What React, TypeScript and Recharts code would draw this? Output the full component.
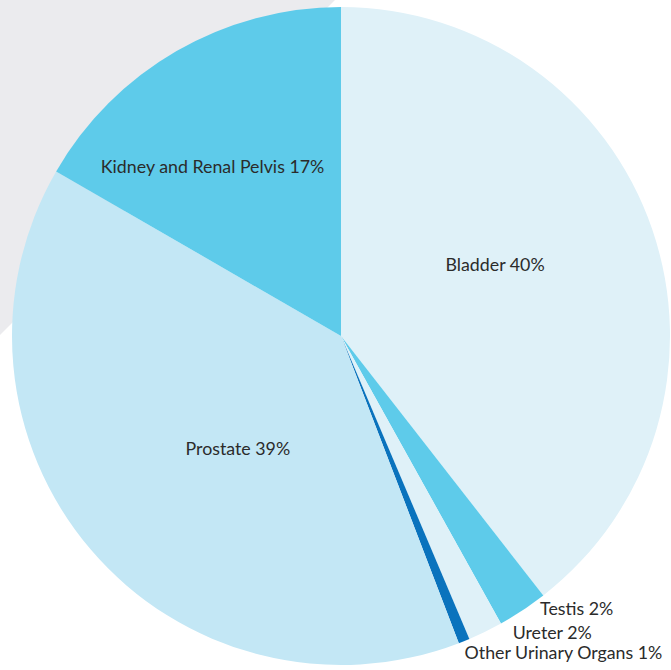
import { PieChart, Pie, Cell } from "recharts";

// slices, clockwise from 12 o'clock
const SITES = ["Bladder", "Testis", "Ureter", "Other Urinary Organs", "Prostate", "Kidney and Renal Pelvis"];
const SHARES = [39.46, 2.46, 1.7, 0.55, 39.17, 16.66];
const SHARE_LABELS = ["40%", "2%", "2%", "1%", "39%", "17%"];
const COLORS = ["#dff1f8", "#5ecbea", "#dff1f8", "#0a73bd", "#c3e7f5", "#5ecbea"];

const data = SITES.map((name, i) => ({ name, value: SHARES[i], pct: SHARE_LABELS[i] }));

// where each label sits: radius from centre, angle shift from the slice middle
const LABEL_PLACE: Record<string, { r: number; shift: number; anchor: "middle" | "start" }> = {
  Bladder: { r: 170, shift: 6, anchor: "middle" },
  Testis: { r: 337, shift: 2.7, anchor: "start" },
  Ureter: { r: 342, shift: 4.1, anchor: "start" },
  "Other Urinary Organs": { r: 339, shift: -0.6, anchor: "start" },
  Prostate: { r: 152, shift: 6.8, anchor: "middle" },
  "Kidney and Renal Pelvis": { r: 213, shift: 7.1, anchor: "middle" },
};

const RAD = Math.PI / 180;

function renderLabel(props: any) {
  const { cx, cy, midAngle, name, payload } = props;
  const p = LABEL_PLACE[name];
  const a = (midAngle + p.shift) * RAD;
  const x = cx + p.r * Math.cos(a);
  const y = cy - p.r * Math.sin(a);
  return (
    <text
      x={x}
      y={y}
      textAnchor={p.anchor}
      dominantBaseline="central"
      fill="#2b2b2b"
      fontSize={17.8}
      fontFamily="Lato, 'Noto Sans', sans-serif"
    >
      {`${name} ${payload.pct}`}
    </text>
  );
}

export default function App() {
  return (
    <div style={{ position: "fixed", left: 0, top: 0, width: 671, height: 670, background: "#fff", overflow: "hidden" }}>
      {/* grey corner behind the pie */}
      <svg width={671} height={670} style={{ position: "absolute", left: 0, top: 0 }}>
        <polygon points="0,0 335,0 0,335" fill="#ebebee" />
      </svg>
      <div style={{ position: "absolute", left: 0, top: 0 }}>
        <PieChart width={671} height={670} margin={{ top: 0, right: 0, bottom: 0, left: 0 }}>
          <Pie
            data={data}
            dataKey="value"
            nameKey="name"
            cx={341}
            cy={336}
            outerRadius={329}
            startAngle={90}
            endAngle={-270}
            stroke="none"
            labelLine={false}
            label={renderLabel}
            isAnimationActive={false}
          >
            {data.map((_, i) => (
              <Cell key={i} fill={COLORS[i]} />
            ))}
          </Pie>
        </PieChart>
      </div>
    </div>
  );
}
